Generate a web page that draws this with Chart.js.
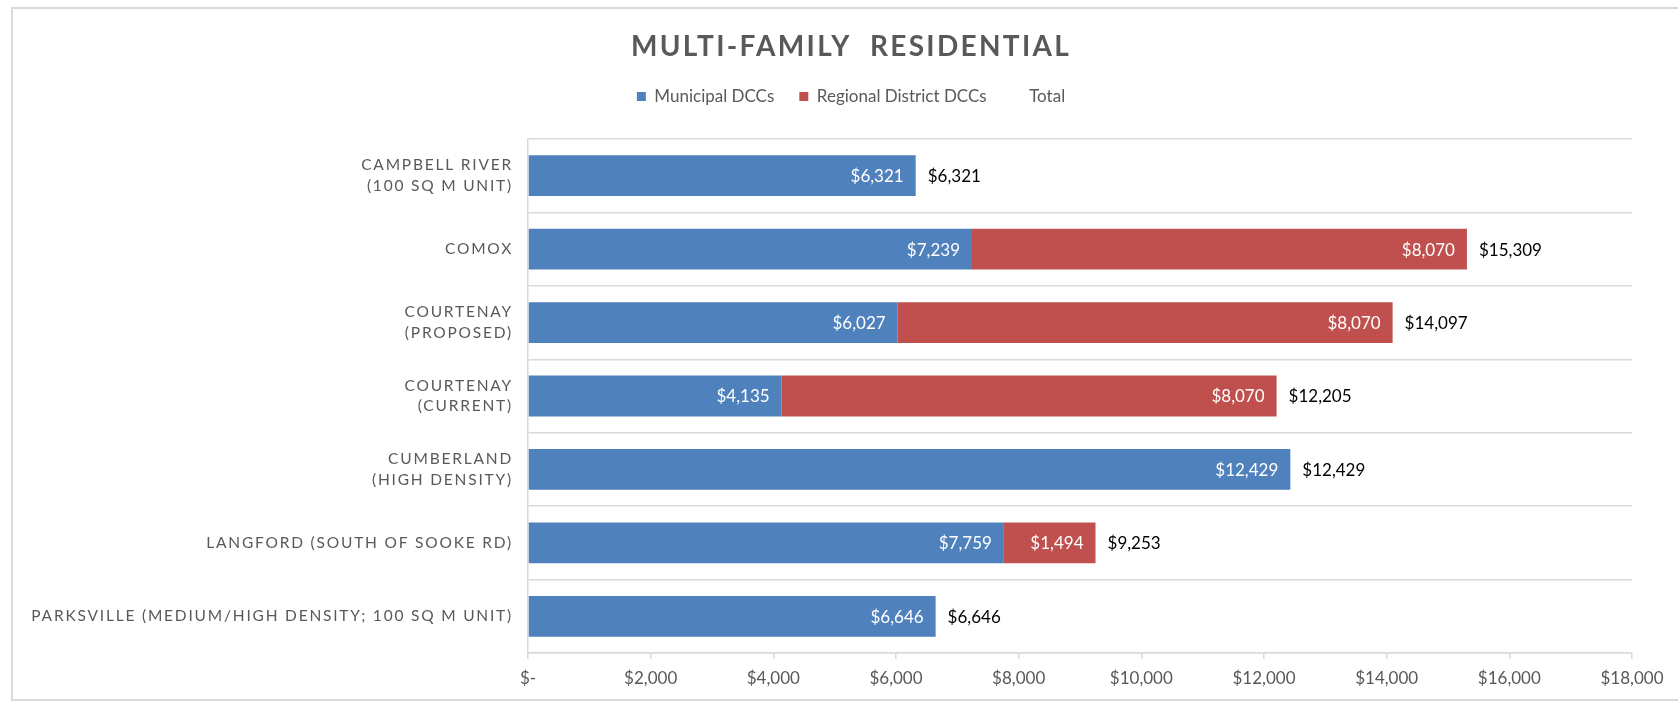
<!DOCTYPE html>
<html>
<head>
<meta charset="utf-8">
<script src="https://cdn.jsdelivr.net/npm/chart.js@4.4.1/dist/chart.umd.min.js"></script>
<style>
  html, body { margin: 0; padding: 0; background: #ffffff; }
  #wrap { position: relative; width: 1678px; height: 703px; }
</style>
</head>
<body>
<div id="wrap"><canvas id="c" width="1678" height="703"></canvas></div>
<script>
// ---- data ----
const categories = [
  ['CAMPBELL RIVER', '(100 SQ M UNIT)'],
  'COMOX',
  ['COURTENAY', '(PROPOSED)'],
  ['COURTENAY', '(CURRENT)'],
  ['CUMBERLAND', '(HIGH DENSITY)'],
  'LANGFORD (SOUTH OF SOOKE RD)',
  'PARKSVILLE (MEDIUM/HIGH DENSITY; 100 SQ M UNIT)'
];
const municipalDCCs = [6321, 7239, 6027, 4135, 12429, 7759, 6646];
const regionalDCCs  = [null, 8070, 8070, 8070, null, 1494, null];
const totals        = [6321, 15309, 14097, 12205, 12429, 9253, 6646];
const xTickLabels   = ['$-', '$2,000', '$4,000', '$6,000', '$8,000', '$10,000', '$12,000', '$14,000', '$16,000', '$18,000'];
const seriesNames   = ['Municipal DCCs', 'Regional District DCCs', 'Total'];
const chartTitle    = 'MULTI-FAMILY  RESIDENTIAL';

const FONT = 'Lato';
const GREY = '#595959';
const fmt = v => '$' + Number(v).toLocaleString('en-US');

// outer frame
const framePlugin = {
  id: 'frame',
  beforeDraw(chart) {
    const c = chart.ctx;
    c.save();
    c.strokeStyle = '#D9D9D9';
    c.lineWidth = 2;
    c.strokeRect(12, 8, 1680, 692);
    c.restore();
  }
};

// letter spacing for the category labels and the title
const spacingPlugin = {
  id: 'spacing',
  beforeDraw(chart) {
    const s = chart.scales.y;
    if (s && !s._lsWrapped) {
      const orig = s.drawLabels;
      s._computeLabelArea = function () { return undefined; };
      s.drawLabels = function (a) {
        const c = this.ctx; c.save(); c.letterSpacing = '1.8px'; orig.call(this, a); c.restore();
      };
      s._lsWrapped = true;
    }
    const t = chart.titleBlock;
    if (t && !t._lsWrapped) {
      const orig = t.draw;
      t.draw = function (a) {
        const c = this.ctx; c.save(); c.letterSpacing = '2.3px'; orig.call(this, a); c.restore();
      };
      t._lsWrapped = true;
    }
  }
};

// value labels
const labelPlugin = {
  id: 'valueLabels',
  afterDatasetsDraw(chart) {
    const c = chart.ctx;
    c.save();
    c.font = '17px ' + FONT;
    c.textBaseline = 'middle';
    [0, 1].forEach(di => {
      const meta = chart.getDatasetMeta(di);
      const ds = chart.data.datasets[di];
      meta.data.forEach((bar, i) => {
        const v = ds.data[i];
        if (v == null) return;
        c.fillStyle = '#FFFFFF';
        c.textAlign = 'right';
        c.fillText(fmt(v), bar.x - 12, bar.y + 1);
      });
    });
    const tmeta = chart.getDatasetMeta(2);
    tmeta.data.forEach((bar, i) => {
      c.fillStyle = '#000000';
      c.textAlign = 'left';
      c.fillText(fmt(totals[i]), bar.x + 12, bar.y + 1);
    });
    c.restore();
  }
};

new Chart(document.getElementById('c'), {
  type: 'bar',
  data: {
    labels: categories,
    datasets: [
      { label: seriesNames[0], data: municipalDCCs, backgroundColor: '#4F81BD', borderWidth: 0, stack: 's' },
      { label: seriesNames[1], data: regionalDCCs, backgroundColor: '#C0504D', borderWidth: 0, stack: 's' },
      { label: seriesNames[2], data: totals, backgroundColor: 'rgba(0,0,0,0)', borderWidth: 0, stack: 't', grouped: false }
    ]
  },
  options: {
    indexAxis: 'y',
    responsive: false,
    animation: false,
    devicePixelRatio: 1,
    datasets: { bar: { categoryPercentage: 1, barPercentage: 0.555 } },
    layout: { padding: { left: 70, right: 46, top: 0, bottom: 0 } },
    plugins: {
      tooltip: { enabled: false },
      title: {
        display: true,
        text: chartTitle,
        color: GREY,
        font: { family: FONT, size: 28, weight: 'bold', lineHeight: 1.0 },
        padding: { top: 33, bottom: 2 }
      },
      legend: {
        display: true,
        position: 'top',
        labels: {
          color: GREY,
          font: { family: FONT, size: 17 },
          boxWidth: 9,
          boxHeight: 9,
          padding: 25
        }
      }
    },
    scales: {
      x: {
        type: 'linear',
        position: 'bottom',
        min: 0,
        max: 18000,
        stacked: true,
        afterFit(s) { s.height = 50; },
        ticks: {
          stepSize: 2000,
          color: GREY,
          font: { family: FONT, size: 17 },
          padding: 9,
          maxRotation: 0,
          callback: (v, i) => xTickLabels[i]
        },
        grid: { drawOnChartArea: false, drawTicks: true, tickLength: 6, color: '#D9D9D9', lineWidth: 1.5 },
        border: { display: true, color: '#D9D9D9', width: 1.5 }
      },
      xSpacer: {
        type: 'linear',
        position: 'top',
        display: true,
        afterFit(s) { s.height = 24; },
        ticks: { display: false },
        grid: { display: false },
        border: { display: false }
      },
      y: {
        type: 'category',
        stacked: true,
        offset: true,
        afterFit(s) { s.width = 528 - 70; },
        ticks: {
          color: GREY,
          font: { family: FONT, size: 15.5, lineHeight: 1.35 },
          padding: 15
        },
        grid: { offset: true, drawTicks: false, color: '#D9D9D9', lineWidth: 1.5 },
        border: { display: true, color: '#D9D9D9', width: 1.5 }
      }
    }
  },
  plugins: [framePlugin, spacingPlugin, labelPlugin]
});
</script>
</body>
</html>
